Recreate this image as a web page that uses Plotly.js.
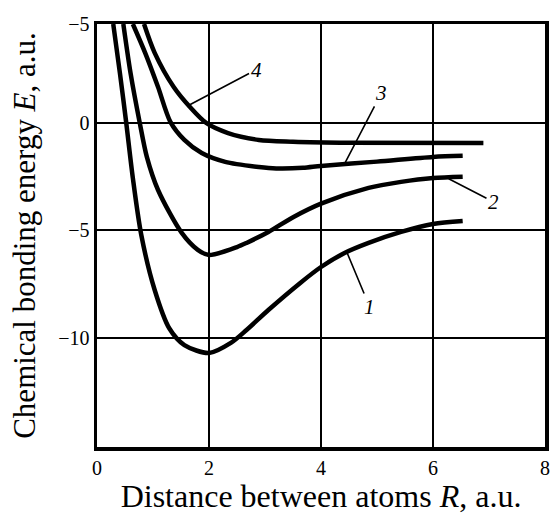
<!DOCTYPE html>
<html>
<head>
<meta charset="utf-8">
<script src="https://cdn.plot.ly/plotly-3.0.1.min.js"></script>
<style>
  html, body { margin: 0; padding: 0; background: #ffffff; }
  #chart { width: 550px; height: 515px; }
</style>
</head>
<body>
<div id="chart"></div>
<script>
// Curve 1
const x1 = [0.29, 0.41, 0.52, 0.64, 0.79, 1.03, 1.29, 1.56, 2.00, 2.39, 2.67, 3.06, 3.63, 4.00, 4.42, 4.85, 5.43, 6.00, 6.53];
const y1 = [4.6, 2.3, 0.05, -2.56, -5.2, -7.77, -9.55, -10.33, -10.7, -10.23, -9.63, -8.7, -7.44, -6.7, -6.05, -5.58, -5.07, -4.7, -4.56];
// Curve 2
const x2 = [0.47, 0.60, 0.76, 0.89, 1.09, 1.51, 1.80, 2.00, 2.50, 2.67, 3.06, 3.51, 4.00, 4.85, 5.43, 6.00, 6.53];
const y2 = [4.6, 2.3, 0.05, -1.58, -3.12, -5.1, -5.9, -6.14, -5.77, -5.58, -5.07, -4.37, -3.75, -3.02, -2.74, -2.56, -2.5];
// Curve 3
const x3 = [0.64, 0.86, 1.09, 1.31, 1.56, 1.87, 2.29, 2.89, 3.20, 3.68, 4.00, 5.00, 6.00, 6.53];
const y3 = [4.6, 3.26, 1.67, 0.05, -0.79, -1.4, -1.81, -2.05, -2.12, -2.09, -2.0, -1.8, -1.58, -1.53];
// Curve 4
const x4 = [0.84, 1.03, 1.37, 1.66, 1.95, 2.34, 2.89, 3.50, 4.50, 6.90];
const y4 = [4.6, 3.26, 1.67, 0.74, 0.0, -0.47, -0.79, -0.87, -0.92, -0.93];

// Curve labels: text position and the curve point the leader touches
const labelText = ["1", "2", "3", "4"];
const labelX = [4.87, 7.08, 5.08, 2.84];
const labelY = [-8.56, -3.67, 1.4, 2.47];
const pointX = [4.46, 6.28, 4.42, 1.64];
const pointY = [-6.0, -2.6, -1.9, 0.82];

// Axis ticks
const xTickVals = [0, 2, 4, 6, 8];
const xTickText = ["0", "2", "4", "6", "8"];
const yTickVals = [4.6, 0, -5, -10];
const yTickText = ["\u22125", "0", "\u22125", "\u221210"];

const serif = "Liberation Serif";
const tickFont = {family: serif, size: 20, color: "#000000"};

const lineStyle = {color: "#000000", width: 4.5, shape: "spline", smoothing: 0.8};
const traces = [[x1, y1], [x2, y2], [x3, y3], [x4, y4]].map(([xs, ys]) => ({
  x: xs, y: ys, type: "scatter", mode: "lines", line: lineStyle,
  hoverinfo: "skip", showlegend: false
}));

const annotations = labelText.map((t, i) => ({
  text: "<i>" + t + "</i>",
  x: pointX[i], y: pointY[i], xref: "x", yref: "y",
  ax: labelX[i], ay: labelY[i], axref: "x", ayref: "y",
  showarrow: true, arrowhead: 0, arrowwidth: 1.6, arrowcolor: "#000000",
  standoff: 0, startstandoff: 0,
  font: {family: serif, size: 21, color: "#000000"}
}));

const layout = {
  width: 550, height: 515,
  margin: {l: 97, r: 5, t: 24, b: 68},
  paper_bgcolor: "#ffffff", plot_bgcolor: "#ffffff",
  showlegend: false,
  font: {family: serif, color: "#000000"},
  xaxis: {
    range: [0, 8],
    tickvals: xTickVals, ticktext: xTickText,
    ticks: "", showgrid: true, gridcolor: "#000000", gridwidth: 2,
    zeroline: false, ticklabeloverflow: "allow",
    showline: true, linecolor: "#000000", linewidth: 3.5, mirror: true,
    tickfont: tickFont,
    title: {text: "Distance between atoms <i>R</i>, a.u.", font: {family: serif, size: 32, color: "#000000"}, standoff: 4}
  },
  yaxis: {
    range: [-15.07, 4.6],
    tickvals: yTickVals, ticktext: yTickText,
    ticks: "", showgrid: true, gridcolor: "#000000", gridwidth: 2,
    zeroline: false, ticklabeloverflow: "allow",
    showline: true, linecolor: "#000000", linewidth: 3.5, mirror: true,
    tickfont: tickFont,
    title: {text: "Chemical bonding energy <i>E</i>, a.u.", font: {family: serif, size: 31, color: "#000000"}, standoff: 14}
  },
  annotations: annotations
};

Plotly.newPlot("chart", traces, layout, {staticPlot: true, displayModeBar: false});
</script>
</body>
</html>
